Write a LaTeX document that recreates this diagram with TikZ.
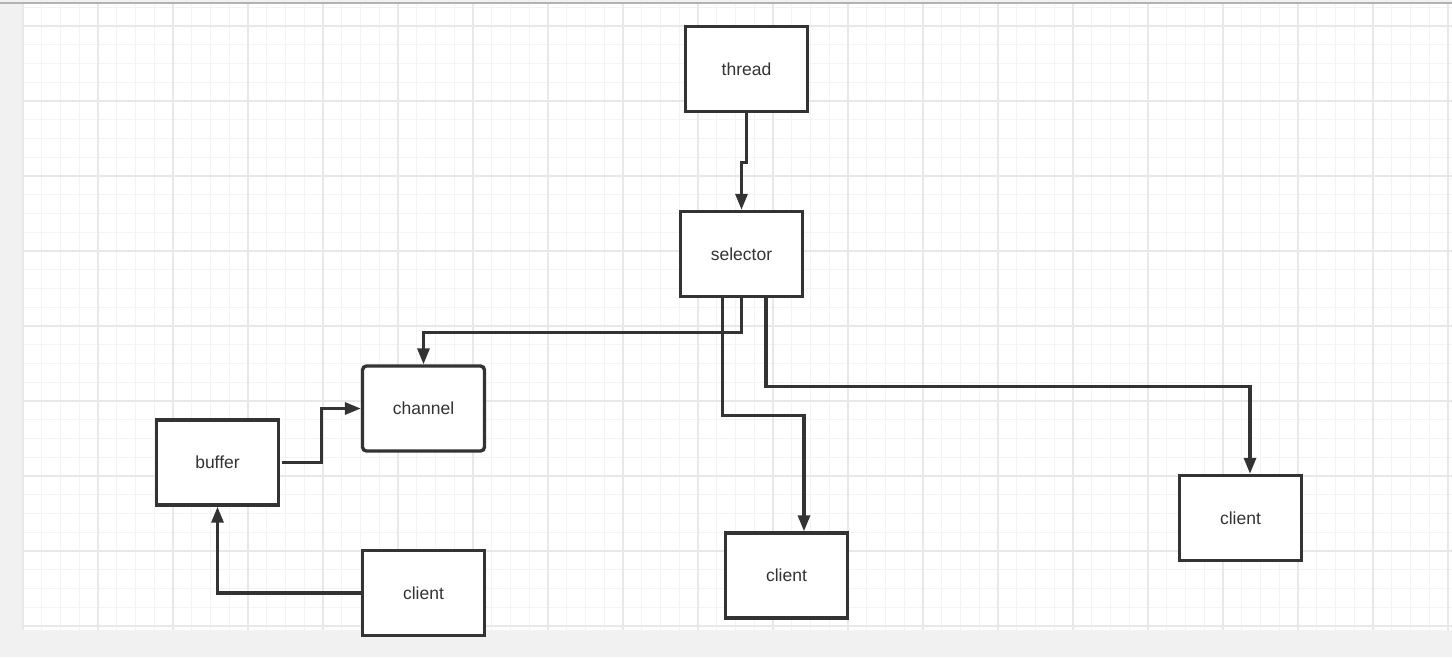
\documentclass[tikz,border=0pt]{standalone}
\usepackage{fontspec}
\setmainfont{Liberation Sans}
\usepackage{xcolor}
\usetikzlibrary{arrows.meta,positioning,calc}

\definecolor{ink}{HTML}{333333}
\definecolor{pagegray}{HTML}{F1F1F1}
\definecolor{minorline}{HTML}{F4F4F4}
\definecolor{majorline}{HTML}{E8E8E8}

\tikzset{
    box/.style={draw=ink,line width=3.4pt,fill=white,minimum width=122pt,minimum height=85pt,
        inner sep=0pt,text=ink,font=\fontsize{17.5}{20}\selectfont},
    roundbox/.style={box,rounded corners=4pt},
    link/.style={draw=ink,line width=3.2pt,-{Triangle[length=16pt,width=12pt]}}
}

\begin{document}
\begin{tikzpicture}[x=1pt,y=-1pt]
        \useasboundingbox (0,0) rectangle (1452,657);
        % Page and canvas
        \fill[pagegray] (0,0) rectangle (1452,657);
        \fill[white] (23,4) rectangle (1452,630);
        \draw[gray!60,line width=1.2pt] (0,3) -- (1452,3);
        
        % Grid
        \foreach \i in {0,...,76} {
            \draw[minorline,line width=1pt] ({23+18.75*\i},4) -- ({23+18.75*\i},630);
        }
        \foreach \j in {0,...,33} {
            \draw[minorline,line width=1pt] (23,{7.25+18.75*\j}) -- (1452,{7.25+18.75*\j});
        }
        \foreach \i in {0,...,19} {
            \draw[majorline,line width=1.2pt] ({23+75*\i},4) -- ({23+75*\i},630);
        }
        \foreach \j in {0,...,8} {
            \draw[majorline,line width=1.2pt] (23,{26+75*\j}) -- (1452,{26+75*\j});
        }
        
        % Boxes
        \node[box] (thread) at (746.5,69) {thread};
        \node[box] (selector) at (741.5,254) {selector};
        \node[roundbox] (channel) at (423.5,408.5) {channel};
        \node[box] (buffer) at (217.5,462.5) {buffer};
        \node[box] (clientA) at (423.5,593) {client};
        \node[box] (clientB) at (786.5,575.5) {client};
        \node[box] (clientC) at (1240.5,518) {client};
        
        % Connectors
        \draw[link] (thread.south) -- ++(0,49) -| (selector.north);
        \draw[link] (selector.south) -- ++(0,34) -| (channel.north);
        \draw[link] ($(selector.south)+(-19,0)$) -- ++(0,117) -| ($(clientB.north)+(17.5,0)$);
        \draw[link] ($(selector.south)+(24.5,0)$) -- ++(0,88) -| ($(clientC.north)+(9.5,0)$);
        \draw[link] ($(buffer.east)+(2,0)$) -- ++(39,0) |- (channel.west);
        \draw[link] (clientA.west) -| (buffer.south);
\end{tikzpicture}
\end{document}
